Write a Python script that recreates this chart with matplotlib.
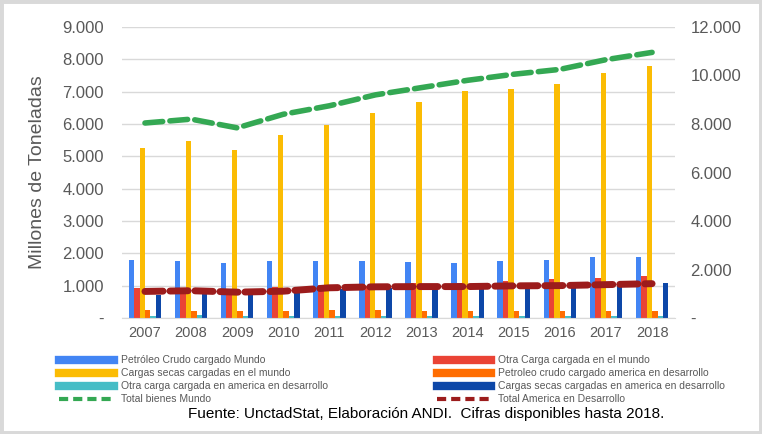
import numpy as np
import matplotlib.pyplot as plt
from matplotlib.patches import Rectangle
from matplotlib.lines import Line2D
from matplotlib.ticker import FuncFormatter

plt.rcParams['font.family'] = ['Liberation Sans', 'DejaVu Sans']

years = ["2007", "2008", "2009", "2010", "2011", "2012",
         "2013", "2014", "2015", "2016", "2017", "2018"]

# bars, left axis (millones de toneladas)
petroleo_mundo = [1810, 1780, 1690, 1780, 1750, 1780, 1720, 1690, 1750, 1810, 1880, 1880]
otra_mundo = [940, 940, 910, 970, 1030, 1000, 1090, 1090, 1160, 1220, 1250, 1310]
secas_mundo = [5270, 5480, 5200, 5650, 5980, 6350, 6680, 7020, 7080, 7230, 7580, 7800]
petroleo_america = [250, 220, 220, 220, 250, 250, 220, 220, 220, 220, 220, 220]
otra_america = [60, 100, 60, 60, 60, 60, 60, 60, 60, 60, 60, 60]
secas_america = [720, 840, 740, 810, 910, 940, 940, 970, 970, 1000, 1060, 1090]

# lines, right axis
total_mundo = [8040, 8200, 7840, 8400, 8750, 9200, 9500, 9800, 10050, 10250, 10650, 10950]
total_america = [1100, 1130, 1070, 1110, 1250, 1290, 1300, 1300, 1330, 1340, 1380, 1420]

bar_series = [
    ("Petróleo Crudo cargado Mundo", petroleo_mundo, "#4285f4"),
    ("Otra Carga cargada en el mundo", otra_mundo, "#ea4335"),
    ("Cargas secas cargadas en el mundo", secas_mundo, "#fbbc04"),
    ("Petroleo crudo cargado america en desarrollo", petroleo_america, "#ff6d01"),
    ("Otra carga cargada en america en desarrollo", otra_america, "#46bdc6"),
    ("Cargas secas cargadas en america en desarrollo", secas_america, "#0d47a8"),
]

fig = plt.figure(figsize=(7.62, 4.34), dpi=100)
ax = fig.add_axes([0.160, 0.267, 0.726, 0.671])

x = np.arange(len(years))
w = 0.118
for i, (name, vals, col) in enumerate(bar_series):
    ax.bar(x + (i - 2.5) * w, vals, width=w, color=col, zorder=2)

def fmt(v, pos):
    if v == 0:
        return "-"
    return f"{int(v):,}".replace(",", ".")

grey = "#595959"
ax.set_xlim(-0.5, len(years) - 0.5)
ax.set_ylim(0, 9000)
ax.set_yticks(np.arange(0, 9001, 1000))
ax.yaxis.set_major_formatter(FuncFormatter(fmt))
ax.set_xticks(x)
ax.set_xticklabels(years)
ax.grid(axis="y", color="#d9d9d9", lw=1, zorder=0)
ax.set_axisbelow(True)
for s in ["top", "right", "left"]:
    ax.spines[s].set_visible(False)
ax.spines["bottom"].set_color("#d9d9d9")
ax.tick_params(axis="y", length=0, labelsize=12, labelcolor=grey, pad=13)
ax.tick_params(axis="x", length=0, labelsize=10.5, labelcolor=grey, pad=6)
ax.set_ylabel("Millones de Toneladas", fontsize=14, color=grey, labelpad=12)

ax2 = ax.twinx()
ax2.set_ylim(0, 12000)
ax2.set_yticks(np.arange(0, 12001, 2000))
ax2.yaxis.set_major_formatter(FuncFormatter(fmt))
ax2.tick_params(axis="y", length=0, labelsize=12, labelcolor=grey, pad=11)
for s in ax2.spines.values():
    s.set_visible(False)
ax2.plot(x, total_mundo, color="#34a853", lw=4, dashes=(3.2, 1.3),
         dash_capstyle="round", zorder=3)
ax2.plot(x, total_america, color="#9c1c1c", lw=5, dashes=(2.6, 1.0),
         dash_capstyle="round", zorder=3)

# legend in two columns
h = [Line2D([], [], color=c, lw=6) for _, _, c in bar_series]
green = Line2D([], [], color="#34a853", lw=3, dashes=(2.2, 1.2))
red = Line2D([], [], color="#9c1c1c", lw=3, dashes=(2.2, 1.2))
names = [n for n, _, _ in bar_series]
leg_kw = dict(frameon=False, fontsize=7.5, handlelength=5.2, handletextpad=0.7,
              labelspacing=0.28, labelcolor=grey, loc="upper left",
              borderaxespad=0, borderpad=0)
fig.legend([h[0], h[2], h[4], green],
           [names[0], names[2], names[4], "Total bienes Mundo"],
           bbox_to_anchor=(0.078, 0.181), **leg_kw)
fig.legend([h[1], h[3], h[5], red],
           [names[1], names[3], names[5], "Total America en Desarrollo"],
           bbox_to_anchor=(0.573, 0.181), **leg_kw)

fig.text(0.559, 0.046, "Fuente: UnctadStat, Elaboración ANDI.  Cifras disponibles hasta 2018.",
         ha="center", va="center", fontsize=11, color="black")

fig.patches.append(Rectangle((0, 0), 1, 1, transform=fig.transFigure,
                             fill=False, edgecolor="#d9d9d9", lw=5))

fig.savefig("out.png", dpi=100)
